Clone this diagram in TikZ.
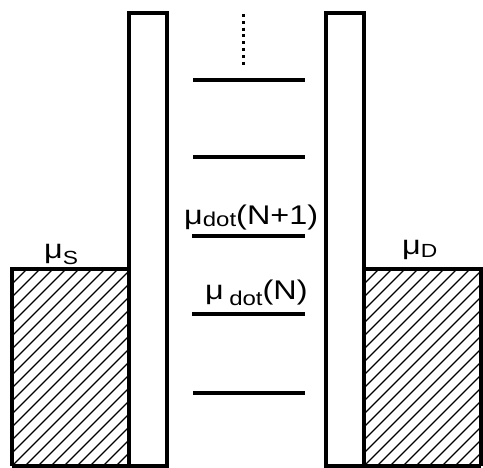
\documentclass[tikz,border=0pt]{standalone}
\usepackage{fontspec}
\setmainfont{Liberation Sans}
\begin{document}
\begin{tikzpicture}[x=1pt,y=-1pt,
  wall/.style={draw=black, line width=3.2pt},
  level/.style={draw=black, line width=3.4pt},
  hatchline/.style={draw=black, line width=1.4pt},
  dots/.style={draw=black, line width=3pt, dash pattern=on 3pt off 3.8pt},
  lbl/.style={inner sep=0pt, anchor=base west, font=\fontsize{27}{30}\selectfont}]
\useasboundingbox (0,0) rectangle (483,468);
% hatching of the reservoirs
\begin{scope}
  \clip (12,269) rectangle (129,466);
  \foreach \k in {-16,...,10} {
    \draw[hatchline] (12+\k*13,466) -- (12+\k*13+197,269);
  }
\end{scope}
\begin{scope}
  \clip (364,269) rectangle (481,466);
  \foreach \k in {-16,...,10} {
    \draw[hatchline] (364+\k*13,466) -- (364+\k*13+197,269);
  }
\end{scope}
% reservoirs
\draw[wall] (12,466) -- (12,269) -- (129,269);
\draw[wall] (12,466) -- (129,466);
\draw[wall] (481,466) -- (481,269) -- (364,269);
\draw[wall] (364,466) -- (481,466);
% barriers
\draw[wall] (129,13) rectangle (167,466);
\draw[wall] (326,13) rectangle (364,466);
% levels
\coordinate (l1a) at (193,80);  \coordinate (l1b) at (305,80);
\coordinate (l2a) at (193,157); \coordinate (l2b) at (305,157);
\coordinate (l3a) at (192,236); \coordinate (l3b) at (305,236);
\coordinate (l4a) at (192,314); \coordinate (l4b) at (305,314);
\coordinate (l5a) at (193,393); \coordinate (l5b) at (305,393);
\draw[level] (l1a) -- (l1b);
\draw[level] (l2a) -- (l2b);
\draw[level] (l3a) -- (l3b);
\draw[level] (l4a) -- (l4b);
\draw[level] (l5a) -- (l5b);
% dotted continuation
\coordinate (d1) at (243,14);
\coordinate (d2) at (243,66);
\draw[dots] (d1) -- (d2);
% labels
\node[lbl] (muS) at (44,259) {\scalebox{1.2}[1]{μ\raisebox{-6pt}{\fontsize{19}{20}\selectfont S}}};
\node[lbl] (muD) at (402,255) {\scalebox{1.2}[1]{μ\raisebox{-3pt}{\fontsize{19}{20}\selectfont D}}};
\node[lbl] (muN1) at (184,225) {\scalebox{1.2}[1]{μ\raisebox{-2pt}{\fontsize{20}{20}\selectfont dot}(N+1)}};
\node[lbl] (muN) at (205,300) {\scalebox{1.2}[1]{μ\,\raisebox{-6pt}{\fontsize{20}{20}\selectfont dot}(N)}};
\end{tikzpicture}
\end{document}
